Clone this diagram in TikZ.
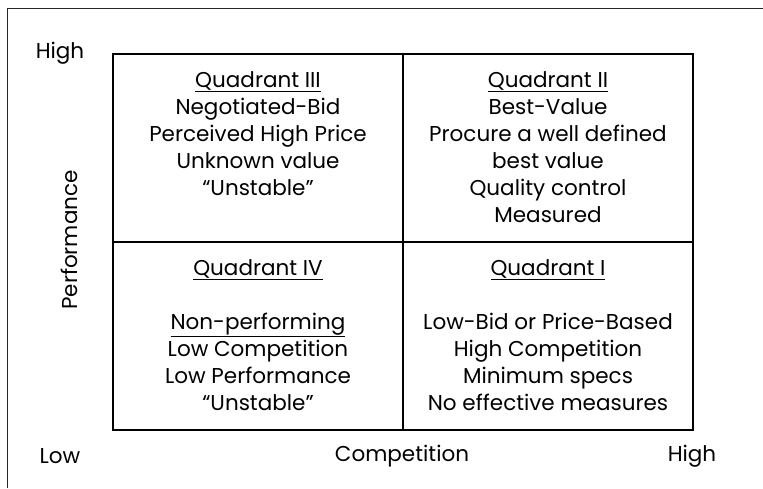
\documentclass[tikz,border=0pt]{standalone}
\usepackage{fontspec}
\setmainfont{Poppins}
\usepackage{tikz}

\tikzset{
cell/.style={draw, line width=1.5pt, minimum width=290pt, minimum height=188pt, inner sep=0pt},
txt/.style={anchor=north, align=center, inner sep=0pt, font=\fontsize{21.5}{27}\selectfont},
lbl/.style={inner sep=0pt, font=\fontsize{21.5}{27}\selectfont}
}

\begin{document}
\begin{tikzpicture}[x=1pt,y=-1pt]
\useasboundingbox (0,0) rectangle (763,488);
\draw[line width=1.8pt, black!85] (7.5,488) -- (7.5,8.5) -- (763,8.5);

\node[cell] (q3) at (258,148) {};
\node[cell] (q2) at (548,148) {};
\node[cell] (q4) at (258,336) {};
\node[cell] (q1) at (548,336) {};

\node[txt] (t3) at ([yshift=-18pt]q3.north) {\underline{Quadrant III}\\ Negotiated-Bid\\ Perceived High Price\\ Unknown value\\ “Unstable”};
\node[txt] (t2) at ([yshift=-18pt]q2.north) {\underline{Quadrant II}\\ Best-Value\\ Procure a well defined\\ best value\\ Quality control\\ Measured};
\node[txt] (t4) at ([yshift=-18pt]q4.north) {\underline{Quadrant IV}\\[27pt] \underline{Non-performing}\\ Low Competition\\ Low Performance\\ “Unstable”};
\node[txt] (t1) at ([yshift=-18pt]q1.north) {\underline{Quadrant I}\\[27pt] Low-Bid or Price-Based\\ High Competition\\ Minimum specs\\ No effective measures};

\node[lbl] (hi) at (60,53) {High};
\node[lbl] (lo) at (60,456) {Low};
\node[lbl] (comp) at (402,456) {Competition};
\node[lbl] (hi2) at (692,456) {High};
\node[lbl, rotate=90] (perf) at (69,240) {Performance};
\end{tikzpicture}
\end{document}
